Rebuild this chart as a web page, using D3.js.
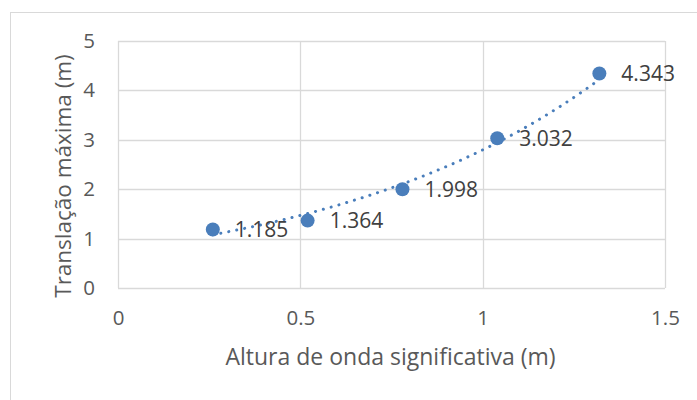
<!DOCTYPE html>
<html>
<head>
<meta charset="utf-8">
<script src="https://cdn.jsdelivr.net/npm/d3@7"></script>
<style>
  html, body { margin: 0; padding: 0; background: #fff; }
  svg { display: block; font-family: "Open Sans", sans-serif; }
</style>
</head>
<body>
<svg id="chart" width="697" height="400"></svg>
<script>
// Significant wave height (m) vs. maximum translation (m)
const waveHeight = [0.26, 0.52, 0.78, 1.04, 1.32];
const maxTranslation = [1.185, 1.364, 1.998, 3.032, 4.343];
const xTicks = [0, 0.5, 1, 1.5];
const yTicks = [0, 1, 2, 3, 4, 5];
const xTitle = "Altura de onda significativa (m)";
const yTitle = "Translação máxima (m)";

const svg = d3.select("#chart");
const blue = "#4a7ebb";
const grid = "#d9d9d9";
const textCol = "#595959";

// chart frame
svg.append("rect")
  .attr("x", 10.5).attr("y", 12.5)
  .attr("width", 720).attr("height", 420)
  .attr("fill", "#fff").attr("stroke", grid).attr("stroke-width", 1);

const x = d3.scaleLinear().domain([0, 1.5]).range([118, 665]);
const y = d3.scaleLinear().domain([0, 5]).range([288, 41]);

// gridlines
const g = svg.append("g");
g.selectAll("line.h").data(yTicks).join("line")
  .attr("x1", x(0)).attr("x2", x(1.5))
  .attr("y1", d => Math.round(y(d)) + 0.5).attr("y2", d => Math.round(y(d)) + 0.5)
  .attr("stroke", grid).attr("stroke-width", 1.3);
g.selectAll("line.v").data(xTicks).join("line")
  .attr("y1", y(0)).attr("y2", y(5))
  .attr("x1", d => Math.round(x(d)) + 0.5).attr("x2", d => Math.round(x(d)) + 0.5)
  .attr("stroke", grid).attr("stroke-width", 1.3);

// axes (labels only, lines come from the grid)
const xAxis = svg.append("g")
  .attr("transform", `translate(0,${y(0)})`)
  .call(d3.axisBottom(x).tickValues(xTicks).tickSize(0).tickPadding(22).tickFormat(d3.format("")));
const yAxis = svg.append("g")
  .attr("transform", `translate(${x(0)},0)`)
  .call(d3.axisLeft(y).tickValues(yTicks).tickSize(0).tickPadding(23).tickFormat(d3.format("")));
[xAxis, yAxis].forEach(a => {
  a.select(".domain").remove();
  a.selectAll("text").attr("fill", textCol).style("font-size", "20.5px")
    .style("font-family", "'Open Sans', sans-serif");
});

// exponential trendline y = a·e^(b·x), least squares on ln(y)
const lnY = maxTranslation.map(Math.log);
const mx = d3.mean(waveHeight), my = d3.mean(lnY);
const b = d3.sum(waveHeight, (v, i) => (v - mx) * (lnY[i] - my)) /
          d3.sum(waveHeight, v => (v - mx) ** 2);
const a = Math.exp(my - b * mx);
const x0 = d3.min(waveHeight), x1 = d3.max(waveHeight);
const trend = d3.range(0, 101).map(i => {
  const xv = x0 + (x1 - x0) * i / 100;
  return [xv, a * Math.exp(b * xv)];
});
svg.append("path")
  .attr("d", d3.line().x(d => x(d[0])).y(d => y(d[1]))(trend))
  .attr("fill", "none").attr("stroke", blue).attr("stroke-width", 3)
  .attr("stroke-linecap", "round").attr("stroke-dasharray", "0.1 8");

const pts = waveHeight.map((v, i) => ({ x: v, y: maxTranslation[i] }));

// markers
svg.selectAll("circle.pt").data(pts).join("circle")
  .attr("cx", d => x(d.x)).attr("cy", d => y(d.y)).attr("r", 7)
  .attr("fill", blue);

// data labels
svg.selectAll("text.lbl").data(pts).join("text")
  .attr("x", d => x(d.x) + 22).attr("y", d => y(d.y))
  .attr("dy", "0.36em")
  .attr("fill", "#404040").style("font-size", "21px")
  .text(d => d3.format(".3f")(d.y));

// axis titles
svg.append("text")
  .attr("x", (x(0) + x(1.5)) / 2 - 1).attr("y", 365)
  .attr("text-anchor", "middle").attr("fill", textCol).style("font-size", "23px")
  .text(xTitle);
svg.append("text")
  .attr("transform", `translate(71,${176}) rotate(-90)`)
  .attr("text-anchor", "middle").attr("fill", textCol).style("font-size", "22.5px")
  .text(yTitle);
</script>
</body>
</html>
